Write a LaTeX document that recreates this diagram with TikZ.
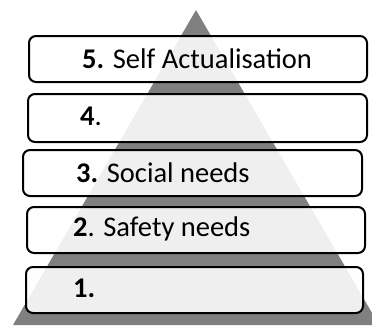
\documentclass[tikz,border=0pt]{standalone}
\usepackage{fontspec}
\setmainfont{Carlito}
\begin{document}
\begin{tikzpicture}[x=1pt,y=-1pt,line join=round,
  tier/.style={draw=black,line width=2pt,rounded corners=7pt,fill=white,fill opacity=0.88,
    minimum height=46pt,minimum width=338pt,inner sep=0pt},
  tiertext/.style={anchor=base west,inner sep=0pt,font=\fontsize{28.5}{34}\selectfont}]
  \useasboundingbox (0,0) rectangle (372,325);
  \clip (0,0) rectangle (372,325);
  % pyramid
  \fill[black!50] (196,10) -- (379,325) -- (13,325) -- cycle;
  % tiers
  \node[tier] (t5) at (198,59) {};
  \node[tier,minimum width=339pt,minimum height=48pt] (t4) at (197.5,118) {};
  \node[tier,minimum width=339pt] (t3) at (192.5,173) {};
  \node[tier] (t2) at (196,230) {};
  \node[tier,minimum width=337pt] (t1) at (194.5,290) {};
  \node[tiertext] (l5) at (82,68) {\textbf{5.} Self Actualisation};
  \node[tiertext] (l4) at (80,125) {\textbf{4}.};
  \node[tiertext] (l3) at (76,182) {\textbf{3.} Social needs};
  \node[tiertext] (l2) at (73,236) {\textbf{2}. Safety needs};
  \node[tiertext] (l1) at (73,297) {\textbf{1.}};
\end{tikzpicture}
\end{document}
